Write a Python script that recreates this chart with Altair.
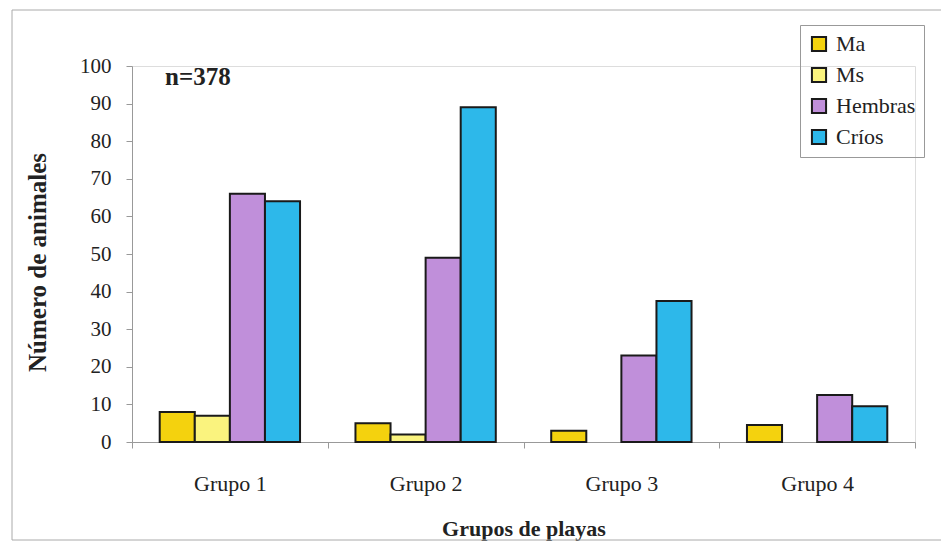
import altair as alt
import pandas as pd

grupos = ["Grupo 1", "Grupo 2", "Grupo 3", "Grupo 4"]
clases = ["Ma", "Ms", "Hembras", "Críos"]
ma = [8, 5, 3, 4.5]
ms = [7, 2, 0, 0]
hembras = [66, 49, 23, 12.5]
crios = [64, 89, 37.5, 9.5]
colores = ["#F4D20E", "#FAF37E", "#C08FDA", "#2DB8EA"]
y_ticks = list(range(0, 101, 10))

rows = []
for i, g in enumerate(grupos):
    for c, serie in zip(clases, [ma, ms, hembras, crios]):
        rows.append({"grupo": g, "clase": c, "valor": serie[i]})
df = pd.DataFrame(rows)
df = df[df["valor"] > 0]

FONT = "Liberation Serif"

bars = alt.Chart(df).mark_bar(stroke="#1a1a1a", strokeWidth=2, opacity=1).encode(
    x=alt.X("grupo:N", sort=grupos,
            scale=alt.Scale(paddingInner=0, paddingOuter=0),
            axis=alt.Axis(title="Grupos de playas", labelAngle=0, tickBand="extent",
                          labelFont=FONT, labelFontSize=22, labelColor="#222",
                          labelPadding=25, tickSize=6, tickColor="#999",
                          domainColor="#999", titleFont=FONT, titleFontSize=22,
                          titleFontWeight="bold", titleColor="#222",
                          titleY=86, titleBaseline="middle")),
    xOffset=alt.XOffset("clase:N", sort=clases,
                        scale=alt.Scale(paddingInner=0, paddingOuter=0.79)),
    y=alt.Y("valor:Q", scale=alt.Scale(domain=[0, 100]),
            axis=alt.Axis(title="Número de animales", values=y_ticks, grid=False,
                          labelFont=FONT, labelFontSize=21, labelColor="#222",
                          labelPadding=15, tickSize=6, tickColor="#999",
                          domainColor="#999", titleFont=FONT, titleFontSize=25,
                          titleFontWeight="bold", titleColor="#222",
                          titleX=-95, titleY=196, titleAngle=-90,
                          titleBaseline="middle", titleAlign="center")),
    color=alt.Color("clase:N", sort=clases,
                    scale=alt.Scale(domain=clases, range=colores),
                    legend=alt.Legend(title=None, orient="none", legendX=668, legendY=-41,
                                      symbolType="square", symbolSize=200,
                                      symbolStrokeColor="#1a1a1a", symbolStrokeWidth=2,
                                      labelFont=FONT, labelFontSize=22, labelColor="#222",
                                      rowPadding=7, strokeColor="#999", padding=8,
                                      labelOffset=6)),
)

nota = alt.Chart(pd.DataFrame({"t": ["n=378"]})).mark_text(
    font=FONT, fontSize=25, fontWeight="bold", align="left", baseline="middle", color="#222"
).encode(x=alt.value(33), y=alt.value(11), text="t:N")

borde = alt.Chart(pd.DataFrame({"a": [0]})).mark_rect(
    fill=None, stroke="#aaa", strokeWidth=1
).encode(x=alt.value(-120), x2=alt.value(811), y=alt.value(-56), y2=alt.value(474))

chart = alt.layer(borde, bars, nota).properties(
    width=783, height=376,
    autosize=alt.AutoSizeParams(type="none"),
    padding={"left": 124, "top": 58, "right": 26, "bottom": 100},
).configure_view(stroke=None).configure(
    background="white", font=FONT
).configure_axis(labelFont=FONT, titleFont=FONT).configure_legend(labelFont=FONT)

chart.save("out.html", embed_options={"renderer": "svg", "actions": False})
